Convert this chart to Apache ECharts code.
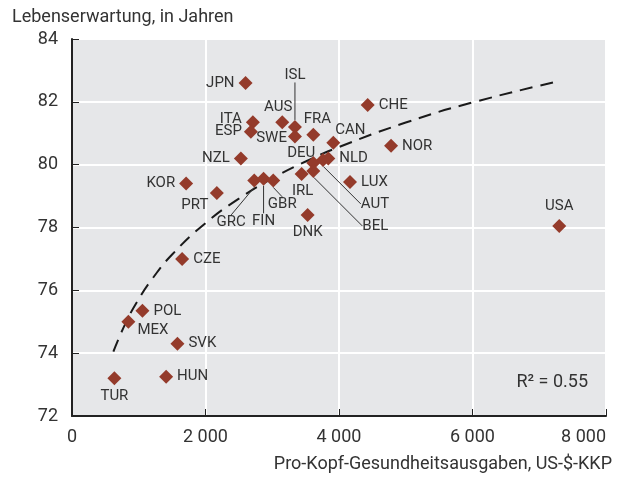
<!DOCTYPE html>
<html>
<head>
<meta charset="utf-8">
<script src="https://cdn.jsdelivr.net/npm/echarts@6/dist/echarts.min.js"></script>
<style>
html,body{margin:0;padding:0;background:#fff;}
#chart{width:619px;height:479px;}
</style>
</head>
<body>
<div id="chart"></div>
<script>
// Länder, Ausgaben (US-$-KKP) und Lebenserwartung
var countries = ['JPN','CHE','ITA','AUS','ISL','SWE','FRA','ESP','CAN','NOR','NZL','DEU','AUT','NLD','IRL','BEL','LUX','DNK','PRT','GRC','FIN','GBR','KOR','CZE','POL','MEX','SVK','TUR','HUN','USA'];
var spending = [2600,4430,2710,3150,3340,3340,3615,2680,3915,4780,2530,3615,3760,3840,3440,3615,4165,3530,2170,2730,2870,3015,1710,1650,1055,845,1580,635,1410,7300];
var lifeExp = [82.6,81.9,81.35,81.35,81.2,80.9,80.95,81.05,80.7,80.6,80.2,80.05,80.15,80.2,79.7,79.8,79.45,78.4,79.1,79.5,79.55,79.5,79.4,77.0,75.35,75.0,74.3,73.2,73.25,78.05];

// Trendlinie (logarithmisch)
var trendX = [620,800,1000,1200,1500,2000,2500,3000,3500,4000,5000,6000,7300];
var trendY = [74.05,74.94,75.72,76.36,77.14,78.14,78.92,79.56,80.10,80.56,81.34,81.98,82.66];

var xTicks = [0,2000,4000,6000,8000];
var yTicks = [72,74,76,78,80,82,84];

var FONT = 'Roboto, "Liberation Sans", sans-serif';
var TXT = '#333333';

// Beschriftung: Position und Verschiebung in px
var labelPos = {
    JPN:['left',0,0], CHE:['right',0,0], ITA:['left',0,-3], AUS:['top',-4,3], SWE:['left',3,2],
    FRA:['top',4,3], ESP:['left',2,0], CAN:['top',17,6], NOR:['right',0,0], NZL:['left',0,0],
    DEU:['top',-12,9], NLD:['right',0,0], IRL:['bottom',1,-1], LUX:['right',0,0], DNK:['bottom',0,-1],
    KOR:['left',0,0], PRT:['bottom',-22,-6], CZE:['right',0,0], POL:['right',0,0], MEX:['right',-2,8],
    SVK:['right',0,0], TUR:['bottom',0,-1], HUN:['right',0,0], USA:['top',0,-1],
    // mit Hinweislinie
    ISL:['inside',0,-52], AUT:['inside',52,44], BEL:['inside',62,55], GRC:['inside',-23,42], FIN:['inside',0,42], GBR:['inside',9,24]
};

var points = countries.map(function (c, i) {
    var item = { name: c, value: [spending[i], lifeExp[i]], label: { position: labelPos[c][0] } };
    if (labelPos[c][0] === 'inside') {
        item.labelLine = { show: true, lineStyle: { color: '#333', width: 1 } };
    }
    return item;
});

var trend = trendX.map(function (x, i) { return [x, trendY[i]]; });

var dom = document.getElementById('chart');
var myChart = echarts.init(dom);
var option = {
    animation: false,
    textStyle: { fontFamily: FONT },
    grid: {
        left: 72, right: 13, top: 39, bottom: 63,
        outerBoundsMode: 'none',
        show: true, backgroundColor: '#e6e7e9', borderWidth: 0
    },
    graphic: [
        { type: 'text', left: 12, top: 8, style: { text: 'Lebenserwartung, in Jahren', font: '18px ' + FONT, fill: TXT } },
        { type: 'text', right: 7, top: 455, style: { text: 'Pro-Kopf-Gesundheitsausgaben, US-$-KKP', font: '18px ' + FONT, fill: TXT } },
        { type: 'text', right: 31, top: 373, style: { text: 'R\u00b2 = 0.55', font: '18px ' + FONT, fill: TXT } }
    ],
    xAxis: {
        type: 'value', min: xTicks[0], max: xTicks[xTicks.length - 1], interval: 2000,
        axisLine: { show: true, onZero: false, lineStyle: { color: '#222', width: 2 } },
        axisTick: { show: true, inside: true, length: 7, lineStyle: { color: '#222', width: 1 } },
        axisLabel: {
            color: TXT, fontSize: 18, fontFamily: FONT, margin: 12, alignMaxLabel: 'right',
            formatter: function (v) { return v >= 1000 ? Math.floor(v / 1000) + ' 000' : String(v); }
        },
        splitLine: { show: true, lineStyle: { color: '#ffffff', width: 2 } }
    },
    yAxis: {
        type: 'value', min: yTicks[0], max: yTicks[yTicks.length - 1], interval: 2,
        axisLine: { show: true, onZero: false, lineStyle: { color: '#222', width: 2 } },
        axisTick: { show: true, inside: true, length: 7, lineStyle: { color: '#222', width: 1 } },
        axisLabel: { color: TXT, fontSize: 18, fontFamily: FONT, margin: 14 },
        splitLine: { show: true, lineStyle: { color: '#ffffff', width: 2 } }
    },
    series: [
        {
            type: 'line',
            data: trend,
            smooth: true,
            symbol: 'none',
            silent: true,
            lineStyle: { color: '#1a1a1a', width: 2, type: [13, 8] },
            z: 2
        },
        {
            type: 'scatter',
            data: points,
            symbol: 'diamond',
            symbolSize: 14,
            itemStyle: { color: '#943b2b', opacity: 1 },
            label: { show: true, formatter: '{b}', color: TXT, fontSize: 15, fontFamily: FONT, distance: 4 },
            labelLayout: function (params) {
                var p = labelPos[countries[params.dataIndex]];
                return { dx: p[1], dy: p[2] };
            },
            labelLine: { show: false, lineStyle: { color: '#333', width: 1 } },
            z: 3
        }
    ]
};
myChart.setOption(option, true);
window.onresize = myChart.resize;
</script>
</body>
</html>
